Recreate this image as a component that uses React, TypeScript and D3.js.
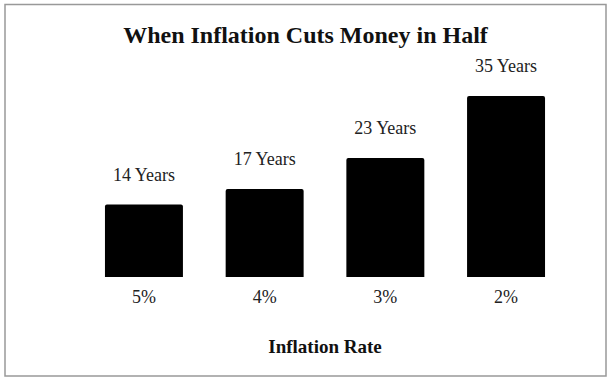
import React from "react";
import * as d3 from "d3";

const categories = ["5%", "4%", "3%", "2%"];
const years = [14, 17, 23, 35];
const valueLabels = ["14 Years", "17 Years", "23 Years", "35 Years"];
const title = "When Inflation Cuts Money in Half";
const xTitle = "Inflation Rate";

const W = 610;
const H = 381;
const FONT = "'Liberation Serif', 'Times New Roman', serif";

export default function App() {
  const x = d3
    .scaleBand<string>()
    .domain(categories)
    .range([83.6, 566.4])
    .paddingInner(0.354)
    .paddingOuter(0.177);
  const y = d3.scaleLinear().domain([0, 35]).range([277, 96]);
  const r = 2;

  return (
    <svg
      width={W}
      height={H}
      style={{ position: "absolute", left: 0, top: 0, background: "#fff" }}
    >
      <rect x={5} y={4.5} width={601} height={371.5} fill="#fff" stroke="#999" strokeWidth={1.5} />
      <text
        x={305.5}
        y={43}
        textAnchor="middle"
        fontFamily={FONT}
        fontWeight="bold"
        fontSize={24}
        fill="#111"
      >
        {title}
      </text>
      {categories.map((c, i) => {
        const bx = x(c)!;
        const by = y(years[i]);
        const bh = y(0) - by;
        const bw = x.bandwidth();
        const path = `M${bx},${by + bh} V${by + r} Q${bx},${by} ${bx + r},${by} H${bx + bw - r} Q${bx + bw},${by} ${bx + bw},${by + r} V${by + bh} Z`;
        return (
          <g key={c}>
            <path d={path} fill="#000" />
            <text
              x={bx + bw / 2}
              y={by - 24}
              textAnchor="middle"
              fontFamily={FONT}
              fontSize={18}
              fill="#222"
            >
              {valueLabels[i]}
            </text>
            <text
              x={bx + bw / 2}
              y={303}
              textAnchor="middle"
              fontFamily={FONT}
              fontSize={18}
              fill="#222"
            >
              {c}
            </text>
          </g>
        );
      })}
      <text
        x={(x.range()[0] + x.range()[1]) / 2}
        y={353}
        textAnchor="middle"
        fontFamily={FONT}
        fontWeight="bold"
        fontSize={19}
        fill="#111"
      >
        {xTitle}
      </text>
    </svg>
  );
}
